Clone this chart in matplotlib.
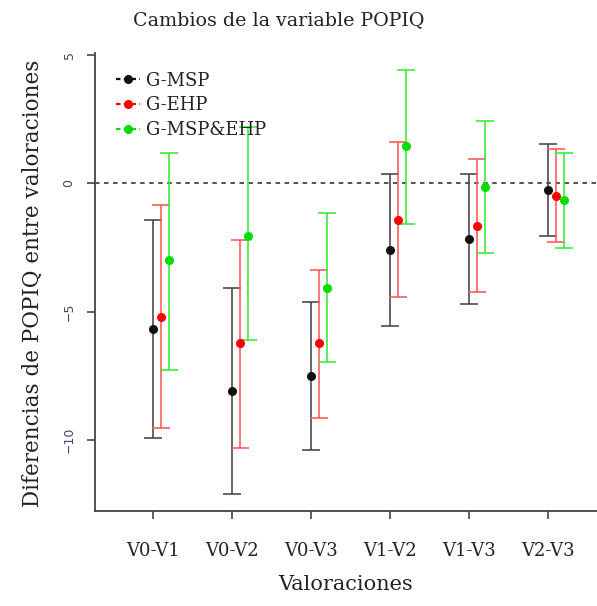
import numpy as np
import matplotlib.pyplot as plt
from matplotlib.lines import Line2D

comparaciones = ["V0-V1", "V0-V2", "V0-V3", "V1-V2", "V1-V3", "V2-V3"]

# media y limites del intervalo de cada grupo
msp_media = [-5.68, -8.08, -7.52, -2.61, -2.18, -0.25]
msp_inf = [-9.93, -12.11, -10.38, -5.55, -4.71, -2.05]
msp_sup = [-1.44, -4.07, -4.64, 0.36, 0.36, 1.53]

ehp_media = [-5.20, -6.24, -6.24, -1.41, -1.66, -0.48]
ehp_inf = [-9.52, -10.32, -9.13, -4.42, -4.23, -2.30]
ehp_sup = [-0.86, -2.19, -3.37, 1.60, 0.93, 1.35]

ambos_media = [-2.98, -2.04, -4.07, 1.47, -0.14, -0.66]
ambos_inf = [-7.29, -6.12, -6.96, -1.58, -2.71, -2.53]
ambos_sup = [1.20, 2.18, -1.14, 4.42, 2.44, 1.17]

grupos = [
    ("G-MSP", "#111111", "#444444", msp_media, msp_inf, msp_sup, 0.0),
    ("G-EHP", "#ff0000", "#ff5555", ehp_media, ehp_inf, ehp_sup, 0.1),
    ("G-MSP&EHP", "#00dd00", "#33ee33", ambos_media, ambos_inf, ambos_sup, 0.2),
]

W, H = 597, 606
fig = plt.figure(figsize=(W / 100, H / 100), dpi=100)
ax = fig.add_axes([95 / W, 1 - 511 / H, 1 - 95 / W, (511 - 53) / H])

x = np.arange(1, len(comparaciones) + 1)
ax.axhline(0, color="#444444", linestyle=(0, (2.5, 2.5)), linewidth=1.3, zorder=1)

handles = []
for nombre, color, color_barra, media, inf, sup, desp in grupos:
    media = np.array(media)
    err = [media - np.array(inf), np.array(sup) - media]
    ax.errorbar(x + desp, media, yerr=err, fmt="none", ecolor=color_barra,
                elinewidth=1.15, capsize=6.5, capthick=1.15, zorder=2)
    ax.plot(x + desp, media, "o", color=color, markersize=5.5, zorder=3)
    handles.append(Line2D([0], [0], color=color, linestyle=(0, (2, 1.5)),
                          linewidth=1.6, marker="o", markersize=5.5))

ax.set_xlim(0.266, 6.62)
ax.set_ylim(-12.77, 5.08)
ax.set_xticks(x)
ax.set_xticklabels(comparaciones, family="DejaVu Serif", fontsize=13, color="#222222")
ax.set_yticks([-10, -5, 0, 5])
ax.set_yticklabels(["\u221210", "\u22125", "0", "5"], rotation=90, va="center",
                   fontsize=9, color="#444466")
ax.tick_params(axis="x", length=6, width=1.2, color="#444444", pad=16)
ax.tick_params(axis="y", length=6, width=1.2, color="#444444", pad=8)

for lado in ["top", "right"]:
    ax.spines[lado].set_visible(False)
for lado in ["left", "bottom"]:
    ax.spines[lado].set_color("#444444")
    ax.spines[lado].set_linewidth(1.3)

leg = ax.legend(handles, [g[0] for g in grupos], loc="upper left",
                bbox_to_anchor=(0.01, 0.995), frameon=False, handlelength=1.3,
                handletextpad=0.35, labelspacing=0.38, numpoints=1,
                prop={"family": "DejaVu Serif", "size": 13})
for t in leg.get_texts():
    t.set_color("#222222")

fig.text(279 / W, 1 - 20 / H, "Cambios de la variable POPIQ", ha="center", va="center",
         family="DejaVu Serif", fontsize=13.7, color="#222222")
fig.text(346 / W, 1 - 584 / H, "Valoraciones", ha="center", va="center",
         family="DejaVu Serif", fontsize=15, color="#222222")
fig.text(33 / W, 1 - 283 / H, "Diferencias de POPIQ entre valoraciones", ha="center",
         va="center", rotation=90, family="DejaVu Serif", fontsize=15.5, color="#222222")

fig.savefig("out.png", dpi=100)
